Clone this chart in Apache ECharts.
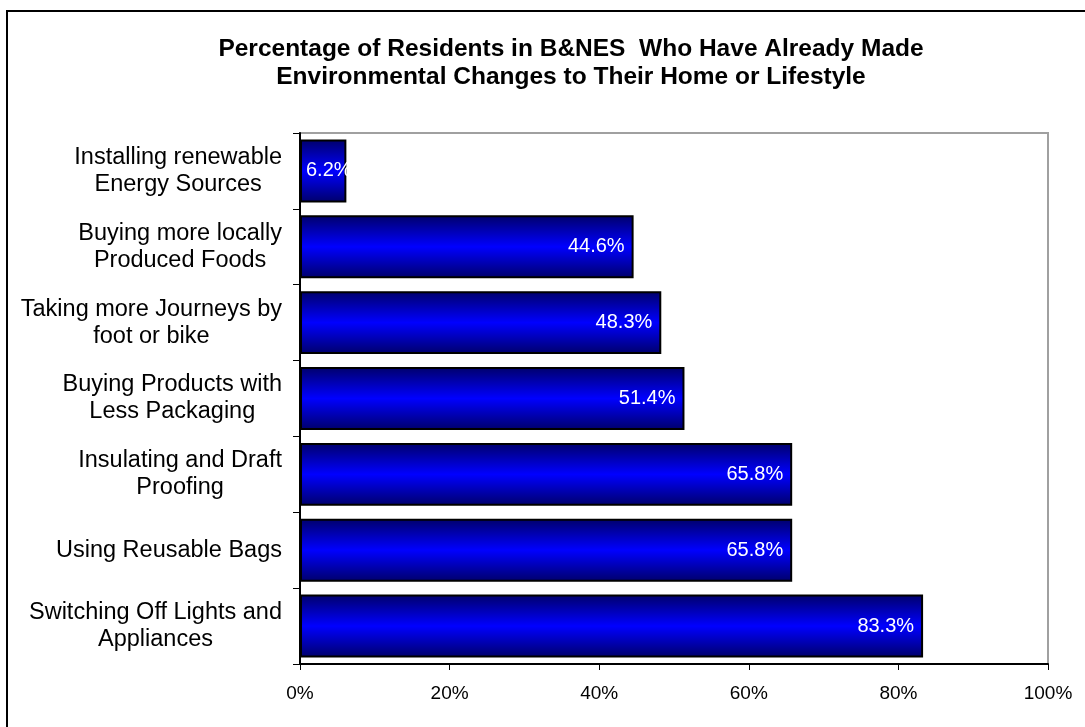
<!DOCTYPE html>
<html>
<head>
<meta charset="utf-8">
<script src="https://cdn.jsdelivr.net/npm/echarts@6/dist/echarts.min.js"></script>
<style>
html,body{margin:0;padding:0;background:#fff;}
#chart{width:1085px;height:727px;}
</style>
</head>
<body>
<div id="chart"></div>
<script>
var titleLines = ['Percentage of Residents in B&NES  Who Have Already Made', 'Environmental Changes to Their Home or Lifestyle'];
var categories = [
  'Installing renewable\nEnergy Sources',
  'Buying more locally\nProduced Foods',
  'Taking more Journeys by\nfoot or bike',
  'Buying Products with\nLess Packaging',
  'Insulating and Draft\nProofing',
  'Using Reusable Bags',
  'Switching Off Lights and\nAppliances'
];
var values = [6.2, 44.6, 48.3, 51.4, 65.8, 65.8, 83.3];
var xTicks = [0, 20, 40, 60, 80, 100];

var chart = echarts.init(document.getElementById('chart'), null, {renderer: 'canvas'});
var barColor = new echarts.graphic.LinearGradient(0, 0, 0, 1, [
  {offset: 0, color: '#00006a'},
  {offset: 0.5, color: '#0000ff'},
  {offset: 1, color: '#00006a'}
]);
var seriesData = values.map(function (v, i) {
  var d = {value: v};
  if (i === 0) {
    d.label = {position: 'insideLeft', distance: 6};
  }
  return d;
});
chart.setOption({
  backgroundColor: '#ffffff',
  animation: false,
  title: {
    text: titleLines.join('\n'),
    left: 566,
    textAlign: 'center',
    top: 30,
    textStyle: {fontFamily: 'Liberation Sans, Arial', fontWeight: 'bold', fontSize: 24.5, lineHeight: 28, color: '#000'}
  },
  graphic: [{
    type: 'rect',
    shape: {x: 7, y: 11, width: 2000, height: 2000},
    style: {fill: 'none', stroke: '#000', lineWidth: 2},
    silent: true
  }],
  grid: {
    left: 300, top: 133, right: 37, bottom: 63,
    show: true, borderColor: '#a0a0a0', borderWidth: 2, backgroundColor: '#fff'
  },
  xAxis: {
    type: 'value',
    min: 0, max: 100, interval: 20,
    splitLine: {show: false},
    axisLine: {show: true, lineStyle: {color: '#000', width: 2}},
    axisTick: {show: true, length: 6, lineStyle: {color: '#000', width: 1}},
    axisLabel: {
      margin: 20, color: '#000', fontSize: 19, fontFamily: 'Liberation Sans, Arial',
      formatter: function (v) { return xTicks.indexOf(v) >= 0 ? v + '%' : ''; }
    }
  },
  yAxis: {
    type: 'category',
    inverse: true,
    data: categories,
    axisLine: {show: true, lineStyle: {color: '#000', width: 2}},
    axisTick: {show: true, length: 7, lineStyle: {color: '#000', width: 1}},
    axisLabel: {
      margin: 18, color: '#000', fontSize: 23.5, fontFamily: 'Liberation Sans, Arial',
      lineHeight: 27,
      formatter: function (v) {
        return v.split('\n').map(function (s) { return '{c|' + s + '}'; }).join('\n');
      },
      rich: {c: {align: 'center', fontSize: 23.5, lineHeight: 27, color: '#000', fontFamily: 'Liberation Sans, Arial'}}
    }
  },
  series: [{
    type: 'bar',
    data: seriesData,
    barCategoryGap: '17%',
    itemStyle: {color: barColor, borderColor: '#000', borderWidth: 2},
    label: {
      show: true, position: 'insideRight', distance: 9,
      color: '#fff', fontSize: 20, fontFamily: 'Liberation Sans, Arial',
      formatter: function (p) { return p.value.toFixed(1) + '%'; }
    }
  }]
});
</script>
</body>
</html>
